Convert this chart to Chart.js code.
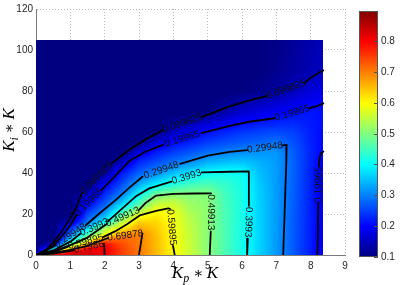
<!DOCTYPE html>
<html lang="en">
<head>
<meta charset="UTF-8">
<title>Kp*K / Ki*K contour map</title>
<script src="https://cdn.jsdelivr.net/npm/chart.js@4/dist/chart.umd.min.js"></script>
<style>
    body { margin: 0; background: #fff; }
    .chart-box { width: 401px; height: 285px; position: relative; }
</style>
</head>
<body>
<div class="chart-box"><canvas id="map"></canvas></div>
<script>
// grid nodes of the shaded surface
const kpNodes = [0, 0.5, 1, 1.5, 2, 2.5, 3, 3.5, 4, 4.5, 5, 5.5, 6, 6.5, 7, 7.5, 8, 8.37];
const kiNodes = [0, 1.5, 3, 5, 7.5, 10, 13, 16, 20, 25, 30, 35, 40, 45, 50, 55, 60, 70, 80, 90, 105];

// surface values, one column per Kp node (bottom to top along kiNodes)
const zCols = [
    [0.5, 0.09, 0.09, 0.09, 0.09, 0.09, 0.09, 0.09, 0.09, 0.09, 0.09, 0.09, 0.09, 0.09, 0.09, 0.09, 0.09, 0.09, 0.09, 0.09, 0.09],
    [0.83, 0.56, 0.36, 0.17, 0.09, 0.09, 0.09, 0.09, 0.09, 0.09, 0.09, 0.09, 0.09, 0.09, 0.09, 0.09, 0.09, 0.09, 0.09, 0.09, 0.09],
    [0.84, 0.81, 0.674, 0.49, 0.367, 0.29, 0.23, 0.157, 0.09, 0.09, 0.09, 0.09, 0.09, 0.09, 0.09, 0.09, 0.09, 0.09, 0.09, 0.09, 0.09],
    [0.83, 0.825, 0.81, 0.677, 0.556, 0.457, 0.369, 0.292, 0.25, 0.198, 0.137, 0.09, 0.09, 0.09, 0.09, 0.09, 0.09, 0.09, 0.09, 0.09, 0.09],
    [0.81, 0.808, 0.805, 0.8, 0.71, 0.583, 0.528, 0.40, 0.325, 0.269, 0.227, 0.181, 0.125, 0.09, 0.09, 0.09, 0.09, 0.09, 0.09, 0.09, 0.09],
    [0.75, 0.75, 0.748, 0.74, 0.725, 0.681, 0.61, 0.548, 0.46, 0.363, 0.294, 0.255, 0.215, 0.154, 0.09, 0.09, 0.09, 0.09, 0.09, 0.09, 0.09],
    [0.705, 0.705, 0.705, 0.705, 0.703, 0.70, 0.67, 0.636, 0.569, 0.46, 0.393, 0.326, 0.274, 0.231, 0.176, 0.095, 0.09, 0.09, 0.09, 0.09, 0.09],
    [0.652, 0.652, 0.652, 0.651, 0.65, 0.647, 0.64, 0.63, 0.61, 0.553, 0.478, 0.379, 0.307, 0.262, 0.22, 0.162, 0.095, 0.09, 0.09, 0.09, 0.09],
    [0.604, 0.603, 0.601, 0.598, 0.597, 0.596, 0.594, 0.592, 0.588, 0.56, 0.497, 0.416, 0.349, 0.29, 0.246, 0.203, 0.15, 0.09, 0.09, 0.09, 0.09],
    [0.555, 0.555, 0.555, 0.554, 0.553, 0.551, 0.548, 0.544, 0.536, 0.52, 0.50, 0.442, 0.381, 0.313, 0.266, 0.223, 0.18, 0.095, 0.09, 0.09, 0.09],
    [0.506, 0.506, 0.506, 0.506, 0.506, 0.506, 0.507, 0.507, 0.508, 0.508, 0.502, 0.452, 0.402, 0.342, 0.287, 0.245, 0.21, 0.10, 0.09, 0.09, 0.09],
    [0.46, 0.46, 0.46, 0.46, 0.46, 0.459, 0.459, 0.458, 0.457, 0.455, 0.45, 0.437, 0.41, 0.352, 0.298, 0.259, 0.225, 0.13, 0.095, 0.09, 0.09],
    [0.414, 0.414, 0.414, 0.414, 0.415, 0.415, 0.416, 0.416, 0.417, 0.418, 0.418, 0.416, 0.405, 0.357, 0.311, 0.27, 0.24, 0.16, 0.10, 0.095, 0.093],
    [0.367, 0.367, 0.367, 0.367, 0.367, 0.366, 0.366, 0.365, 0.365, 0.364, 0.362, 0.358, 0.35, 0.34, 0.315, 0.278, 0.25, 0.175, 0.11, 0.10, 0.10],
    [0.32, 0.32, 0.32, 0.32, 0.32, 0.32, 0.321, 0.321, 0.321, 0.322, 0.322, 0.322, 0.322, 0.322, 0.318, 0.288, 0.255, 0.19, 0.125, 0.11, 0.105],
    [0.27, 0.27, 0.27, 0.27, 0.27, 0.27, 0.27, 0.27, 0.271, 0.272, 0.273, 0.274, 0.275, 0.275, 0.272, 0.262, 0.25, 0.205, 0.145, 0.125, 0.12],
    [0.22, 0.22, 0.22, 0.22, 0.221, 0.221, 0.222, 0.222, 0.222, 0.223, 0.223, 0.224, 0.224, 0.225, 0.225, 0.224, 0.222, 0.215, 0.17, 0.14, 0.135],
    [0.183, 0.183, 0.183, 0.183, 0.184, 0.184, 0.184, 0.185, 0.185, 0.186, 0.187, 0.187, 0.188, 0.192, 0.20, 0.204, 0.205, 0.21, 0.18, 0.15, 0.145]
];

// contour lines, [Kp, Ki]; null = gap where the level label sits
const c01 = [[0, 0], [0.25, 2], [0.5, 6], [0.75, 11.5], [1.0, 18], [1.2, 24], [1.33, 30.1], null, [2.2, 44.7], [2.5, 48.5], [2.73, 51.5], [3.2, 56.5], [3.7, 61], null, [4.82, 67.3], [5.3, 70.3], [5.64, 72.5], [6.22, 75.4], [6.74, 77.6], null, [7.82, 83.9], [8.0, 86.5], [8.26, 89.2], [8.37, 90]];
const c02 = [[0, 0], [0.5, 4.5], [0.8, 10], [1.0, 14.5], [1.18, 19.5], null, [1.91, 31.7], [2.3, 38.5], [2.73, 46], [3.2, 50.5], [3.7, 53.7], null, [4.82, 59.5], [5.64, 63], [6.2, 65], [6.95, 66.7], null, [7.97, 71.7], [8.2, 72.8], [8.37, 74]];
const c02b = [[8.2, 0], [8.22, 25], null, [8.24, 43.5], [8.26, 47.5], [8.3, 49.5], [8.37, 50.5]];
const c03 = [[0, 0], [0.3, 2.2], [0.55, 4.5], null, [1.45, 14.5], [1.86, 20.5], [2.3, 26.5], [2.73, 33], [3.1, 38.2], null, [4.2, 44.5], [5.0, 48.5], [5.64, 50.3], [6.16, 51.2], null, [7.18, 53.5], [7.3, 53.7], [7.29, 45], [7.25, 25], [7.2, 0]];
const c04 = [[0, 0], [0.5, 2.2], [1.0, 6.5], [1.3, 10.5], null, [2.1, 16.5], [2.5, 22.5], [2.9, 28.5], [3.3, 32.5], [3.94, 35.8], null, [4.83, 40.3], [5.64, 40.6], [6.2, 40.8], [6.2, 24], null, [6.17, 8], [6.15, 0]];
const c05 = [[0, 0], [0.5, 1.8], [1.0, 4.8], [1.5, 8.5], [2.05, 15], null, [3.0, 22], [3.2, 25.5], [3.5, 29], [4.0, 29.8], [4.6, 30], [5.1, 30.1], null, [5.09, 11.5], [5.06, 0]];
const c06 = [[0, 0], [0.5, 1.3], [0.95, 4.2], null, [1.95, 8.7], [2.3, 11.5], [2.65, 15], [3.02, 19.3], [3.5, 21.5], [3.85, 22.8], [3.9, 22.5], null, [3.99, 4.5], [4.04, 0]];
const c07 = [[0, 0], [0.5, 1.0], [1.0, 2.5], [1.5, 4.5], [2.1, 8.3], null, [3.1, 10.5], [3.0, 0]];
const c08 = [[0, 0], [0.5, 0.7], [1.1, 2.3], null, [1.98, 5.5], [2.0, 0]];

const levelText = ['0.099825', '0.19965', '0.29948', '0.3993', '0.49913', '0.59895', '0.69878', '0.7986'];
const contourLines = [c01, c02, c02b, c03, c04, c05, c06, c07, c08];
const contourLevel = [0, 1, 1, 2, 3, 4, 5, 6, 7];

const xTicks = [0, 1, 2, 3, 4, 5, 6, 7, 8, 9];
const yTicks = [0, 20, 40, 60, 80, 100, 120];
const cbTicks = [0.1, 0.2, 0.3, 0.4, 0.5, 0.6, 0.7, 0.8];
const cMin = 0.0998, cMax = 0.898;

Chart.defaults.font.family = '"Liberation Sans", Arial, Helvetica, sans-serif';
Chart.defaults.font.size = 10;
Chart.defaults.color = '#262626';

function clamp01(v) { return v < 0 ? 0 : v > 1 ? 1 : v; }

// matlab jet
function jet(v) {
    const t = clamp01((v - cMin) / (cMax - cMin));
    return [
        clamp01(1.5 - Math.abs(4 * t - 3)),
        clamp01(1.5 - Math.abs(4 * t - 2)),
        clamp01(1.5 - Math.abs(4 * t - 1))
    ].map(c => Math.round(c * 255));
}

function cellIndex(nodes, v) {
    let i = 0;
    while (i < nodes.length - 2 && v > nodes[i + 1]) i++;
    return i;
}

function sampleZ(kp, ki) {
    const i = cellIndex(kpNodes, kp), j = cellIndex(kiNodes, ki);
    const tx = clamp01((kp - kpNodes[i]) / (kpNodes[i + 1] - kpNodes[i]));
    const ty = clamp01((ki - kiNodes[j]) / (kiNodes[j + 1] - kiNodes[j]));
    const a = zCols[i][j], b = zCols[i + 1][j], c = zCols[i][j + 1], d = zCols[i + 1][j + 1];
    return (a * (1 - tx) + b * tx) * (1 - ty) + (c * (1 - tx) + d * tx) * ty;
}

// shaded surface, painted under the contour lines
const surfacePlugin = {
    id: 'surface',
    beforeDatasetsDraw(chart) {
        const { ctx, scales: { x, y } } = chart;
        const x0 = Math.round(x.getPixelForValue(kpNodes[0]));
        const x1 = Math.round(x.getPixelForValue(kpNodes[kpNodes.length - 1]));
        const y0 = Math.round(y.getPixelForValue(kiNodes[kiNodes.length - 1]));
        const y1 = Math.round(y.getPixelForValue(kiNodes[0]));
        const w = x1 - x0, h = y1 - y0;
        const off = document.createElement('canvas');
        off.width = w; off.height = h;
        const octx = off.getContext('2d');
        const img = octx.createImageData(w, h);
        for (let j = 0; j < h; j++) {
            const ki = y.getValueForPixel(y0 + j + 0.5);
            for (let i = 0; i < w; i++) {
                const kp = x.getValueForPixel(x0 + i + 0.5);
                const c = jet(sampleZ(kp, ki));
                const k = (j * w + i) * 4;
                img.data[k] = c[0]; img.data[k + 1] = c[1]; img.data[k + 2] = c[2]; img.data[k + 3] = 255;
            }
        }
        octx.putImageData(img, 0, 0);
        ctx.drawImage(off, x0, y0);
    }
};

// inline level labels in the gaps of the contour lines
const labelPlugin = {
    id: 'levelLabels',
    afterDatasetsDraw(chart) {
        const { ctx, scales: { x, y } } = chart;
        ctx.save();
        ctx.font = '10px "Liberation Sans", Arial, sans-serif';
        ctx.fillStyle = '#111';
        ctx.textAlign = 'center';
        ctx.textBaseline = 'middle';
        contourLines.forEach((line, n) => {
            line.forEach((p, k) => {
                if (p) return;
                const a = line[k - 1], b = line[k + 1];
                const ax = x.getPixelForValue(a[0]), ay = y.getPixelForValue(a[1]);
                const bx = x.getPixelForValue(b[0]), by = y.getPixelForValue(b[1]);
                let ang = Math.atan2(by - ay, bx - ax);
                if (ang > 1.75) ang -= Math.PI;
                if (ang < -1.75) ang += Math.PI;
                ctx.save();
                ctx.translate((ax + bx) / 2, (ay + by) / 2);
                ctx.rotate(ang);
                ctx.fillText(levelText[contourLevel[n]], 0, 0);
                ctx.restore();
            });
        });
        ctx.restore();
    }
};

function drawMath(ctx, parts, cx, baseY) {
    let w = 0;
    parts.forEach(p => { ctx.font = 'italic ' + p[1] + 'px "Liberation Serif", "DejaVu Serif", serif'; w += ctx.measureText(p[0]).width; });
    let xPos = cx - w / 2;
    parts.forEach(p => {
        ctx.font = 'italic ' + p[1] + 'px "Liberation Serif", "DejaVu Serif", serif';
        ctx.fillText(p[0], xPos, baseY + p[2]);
        xPos += ctx.measureText(p[0]).width;
    });
}

// colorbar + axis titles
const decorPlugin = {
    id: 'decor',
    afterDraw(chart) {
        const { ctx, scales: { cb } } = chart;
        const left = Math.round(cb.left + 14), width = 19;
        const top = Math.round(cb.getPixelForValue(cMax)) + 2, bottom = Math.round(cb.getPixelForValue(cMin)) + 2;
        ctx.save();
        for (let py = top; py < bottom; py++) {
            const c = jet(cb.getValueForPixel(py - 2 + 0.5));
            ctx.fillStyle = 'rgb(' + c.join(',') + ')';
            ctx.fillRect(left, py, width, 1);
        }
        ctx.strokeStyle = '#555';
        ctx.lineWidth = 1;
        ctx.strokeRect(left + 0.5, top + 0.5, width - 1, bottom - top - 1);
        ctx.font = '10px "Liberation Sans", Arial, sans-serif';
        ctx.fillStyle = '#262626';
        ctx.textAlign = 'left';
        ctx.textBaseline = 'middle';
        cbTicks.forEach(v => {
            const py = Math.round(cb.getPixelForValue(v)) + 2;
            ctx.beginPath();
            ctx.moveTo(left + width - 4, py + 0.5);
            ctx.lineTo(left + width, py + 0.5);
            ctx.stroke();
            ctx.fillText(v.toFixed(1), left + width + 3, py);
        });

        ctx.fillStyle = '#000';
        ctx.textBaseline = 'alphabetic';
        drawMath(ctx, [['K', 17, 0], ['p', 12, 4], [' \u2217 ', 15, 0], ['K', 17, 0]], 195, 278);
        ctx.translate(14, 130);
        ctx.rotate(-Math.PI / 2);
        drawMath(ctx, [['K', 17, 0], ['i', 12, 4], [' \u2217 ', 15, 0], ['K', 17, 0]], 0, 0);
        ctx.restore();
    }
};

const datasets = contourLines.map(line => {
    let last = line[0];
    return {
        data: line.map(p => {
            if (p) { last = p; return { x: p[0], y: p[1] }; }
            return { x: last[0], y: null };
        }),
        showLine: true,
        spanGaps: false,
        borderColor: '#000',
        borderWidth: 1.8,
        borderJoinStyle: 'round',
        borderCapStyle: 'round',
        pointRadius: 0,
        tension: 0
    };
});

const gridStyle = { color: '#b8b8b8', lineWidth: 1, drawTicks: false };
const borderStyle = { display: true, color: '#7a7a7a', dash: [1, 2] };

new Chart(document.getElementById('map'), {
    type: 'scatter',
    data: { datasets: datasets },
    options: {
        responsive: true,
        maintainAspectRatio: false,
        animation: false,
        events: [],
        layout: { padding: { top: 9, left: 0, right: 0, bottom: 0 } },
        plugins: { legend: { display: false }, tooltip: { enabled: false } },
        scales: {
            x: {
                type: 'linear', min: 0, max: 9,
                afterBuildTicks: s => { s.ticks = xTicks.map(v => ({ value: v })); },
                afterFit: s => { s.height = 30; },
                ticks: { padding: 5, callback: v => String(v) },
                grid: gridStyle,
                border: borderStyle
            },
            y: {
                type: 'linear', min: 0, max: 120,
                afterBuildTicks: s => { s.ticks = yTicks.map(v => ({ value: v })); },
                afterFit: s => { s.width = 36; },
                ticks: { padding: 3, callback: v => String(v) },
                grid: gridStyle,
                border: borderStyle
            },
            cb: {
                type: 'linear', position: 'right', axis: 'y', min: cMin, max: cMax,
                afterFit: s => { s.width = 56; },
                ticks: { display: false, padding: 0 },
                grid: { display: false, drawTicks: false },
                border: { display: false }
            }
        }
    },
    plugins: [surfacePlugin, labelPlugin, decorPlugin]
});
</script>
</body>
</html>
